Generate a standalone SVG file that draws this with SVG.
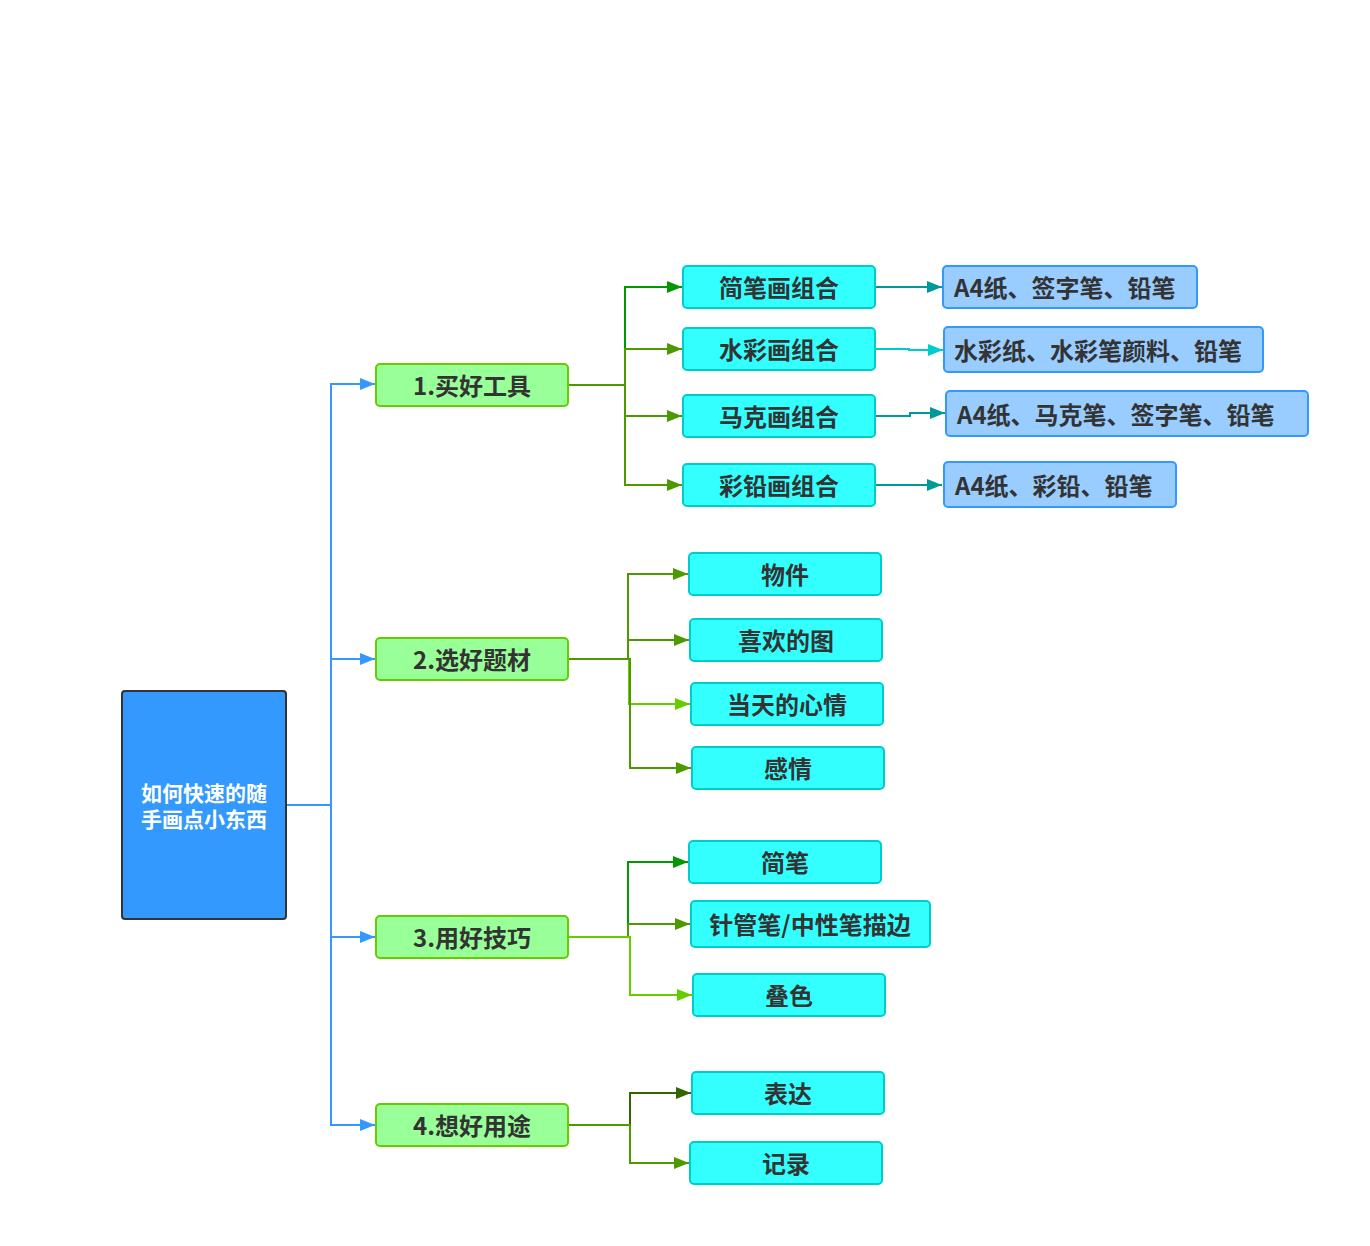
<svg xmlns="http://www.w3.org/2000/svg" width="1370" height="1246" viewBox="0 0 1370 1246">
<style>
text{font-family:"Noto Sans CJK SC","Noto Sans",sans-serif;font-weight:bold;fill:#333;font-size:24px;dominant-baseline:central}
.c{text-anchor:middle}
.root rect{fill:#3399ff;stroke:#333;stroke-width:2}
.root text{fill:#fff;font-size:21px}
.l1 rect{fill:#99ff99;stroke:#66cc00;stroke-width:2}
.l2 rect{fill:#33ffff;stroke:#00cccc;stroke-width:2}
.l3 rect{fill:#99ccff;stroke:#3399ff;stroke-width:2}
#connectors path{fill:none;stroke-width:2}
</style>
<defs>
<marker id="mb" markerWidth="16" markerHeight="12" refX="15" refY="6" orient="auto" markerUnits="userSpaceOnUse"><path d="M0,0L15,6L0,12z" fill="#3399ff"/></marker>
<marker id="mg1" markerWidth="16" markerHeight="12" refX="15" refY="6" orient="auto" markerUnits="userSpaceOnUse"><path d="M0,0L15,6L0,12z" fill="#009900"/></marker>
<marker id="mg2" markerWidth="16" markerHeight="12" refX="15" refY="6" orient="auto" markerUnits="userSpaceOnUse"><path d="M0,0L15,6L0,12z" fill="#4d9900"/></marker>
<marker id="mg3" markerWidth="16" markerHeight="12" refX="15" refY="6" orient="auto" markerUnits="userSpaceOnUse"><path d="M0,0L15,6L0,12z" fill="#66cc00"/></marker>
<marker id="mg4" markerWidth="16" markerHeight="12" refX="15" refY="6" orient="auto" markerUnits="userSpaceOnUse"><path d="M0,0L15,6L0,12z" fill="#336600"/></marker>
<marker id="mt1" markerWidth="16" markerHeight="12" refX="15" refY="6" orient="auto" markerUnits="userSpaceOnUse"><path d="M0,0L15,6L0,12z" fill="#009999"/></marker>
<marker id="mt2" markerWidth="16" markerHeight="12" refX="15" refY="6" orient="auto" markerUnits="userSpaceOnUse"><path d="M0,0L15,6L0,12z" fill="#00cccc"/></marker>
</defs>
<g id="connectors">
<path d="M287,805H331V384H375" stroke="#3399ff" marker-end="url(#mb)"/>
<path d="M331,805V659H375" stroke="#3399ff" marker-end="url(#mb)"/>
<path d="M331,805V937H375" stroke="#3399ff" marker-end="url(#mb)"/>
<path d="M331,805V1125H375" stroke="#3399ff" marker-end="url(#mb)"/>
<path d="M568,385H625V287H682" stroke="#009900" marker-end="url(#mg1)"/>
<path d="M568,385H625V349H682" stroke="#4d9900" marker-end="url(#mg2)"/>
<path d="M568,385H625V416H682" stroke="#4d9900" marker-end="url(#mg2)"/>
<path d="M568,385H625V485H682" stroke="#4d9900" marker-end="url(#mg2)"/>
<path d="M876,287H942" stroke="#009999" marker-end="url(#mt1)"/>
<path d="M876,349H909V350H943" stroke="#00cccc" marker-end="url(#mt2)"/>
<path d="M876,416H910V413H945" stroke="#009999" marker-end="url(#mt1)"/>
<path d="M876,485H942" stroke="#009999" marker-end="url(#mt1)"/>
<path d="M568,659H628V574H688" stroke="#4d9900" marker-end="url(#mg2)"/>
<path d="M568,659H628V640H689" stroke="#4d9900" marker-end="url(#mg2)"/>
<path d="M568,659H629V704H690" stroke="#66cc00" marker-end="url(#mg3)"/>
<path d="M568,659H630V768H691" stroke="#4d9900" marker-end="url(#mg2)"/>
<path d="M568,937H628V862H688" stroke="#009900" marker-end="url(#mg1)"/>
<path d="M568,937H628V924H690" stroke="#4d9900" marker-end="url(#mg2)"/>
<path d="M568,937H630V995H692" stroke="#66cc00" marker-end="url(#mg3)"/>
<path d="M568,1125H630V1093H691" stroke="#336600" marker-end="url(#mg4)"/>
<path d="M568,1125H630V1163H689" stroke="#4d9900" marker-end="url(#mg2)"/>
</g>
<g id="root" class="root"><rect x="122" y="691" width="164" height="228" rx="3"/><text class="c" x="204" y="792">如何快速的随</text><text class="c" x="204" y="818">手画点小东西</text></g>
<g id="n1" class="l1"><rect x="376" y="364" width="192" height="42" rx="4"/><text class="c" x="472" y="384">1.买好工具</text></g>
<g id="n2" class="l1"><rect x="376" y="638" width="192" height="42" rx="4"/><text class="c" x="472" y="658">2.选好题材</text></g>
<g id="n3" class="l1"><rect x="376" y="916" width="192" height="42" rx="4"/><text class="c" x="472" y="936">3.用好技巧</text></g>
<g id="n4" class="l1"><rect x="376" y="1104" width="192" height="42" rx="4"/><text class="c" x="472" y="1124">4.想好用途</text></g>
<g id="n11" class="l2"><rect x="683" y="266" width="192" height="42" rx="4"/><text class="c" x="779" y="286">简笔画组合</text></g>
<g id="n12" class="l2"><rect x="683" y="328" width="192" height="42" rx="4"/><text class="c" x="779" y="348">水彩画组合</text></g>
<g id="n13" class="l2"><rect x="683" y="395" width="192" height="42" rx="4"/><text class="c" x="779" y="415">马克画组合</text></g>
<g id="n14" class="l2"><rect x="683" y="464" width="192" height="42" rx="4"/><text class="c" x="779" y="484">彩铅画组合</text></g>
<g id="n111" class="l3"><rect x="943" y="266" width="254" height="42" rx="4"/><text x="954" y="286">A4纸、签字笔、铅笔</text></g>
<g id="n121" class="l3"><rect x="944" y="327" width="319" height="45" rx="4"/><text x="954" y="349">水彩纸、水彩笔颜料、铅笔</text></g>
<g id="n131" class="l3"><rect x="946" y="391" width="362" height="45" rx="4"/><text x="957" y="413">A4纸、马克笔、签字笔、铅笔</text></g>
<g id="n141" class="l3"><rect x="944" y="462" width="232" height="45" rx="4"/><text x="955" y="484">A4纸、彩铅、铅笔</text></g>
<g id="n21" class="l2"><rect x="689" y="553" width="192" height="42" rx="4"/><text class="c" x="785" y="573">物件</text></g>
<g id="n22" class="l2"><rect x="690" y="619" width="192" height="42" rx="4"/><text class="c" x="786" y="639">喜欢的图</text></g>
<g id="n23" class="l2"><rect x="691" y="683" width="192" height="42" rx="4"/><text class="c" x="787" y="703">当天的心情</text></g>
<g id="n24" class="l2"><rect x="692" y="747" width="192" height="42" rx="4"/><text class="c" x="788" y="767">感情</text></g>
<g id="n31" class="l2"><rect x="689" y="841" width="192" height="42" rx="4"/><text class="c" x="785" y="861">简笔</text></g>
<g id="n32" class="l2"><rect x="691" y="901" width="239" height="46" rx="4"/><text class="c" x="810" y="923">针管笔/中性笔描边</text></g>
<g id="n33" class="l2"><rect x="693" y="974" width="192" height="42" rx="4"/><text class="c" x="789" y="994">叠色</text></g>
<g id="n41" class="l2"><rect x="692" y="1072" width="192" height="42" rx="4"/><text class="c" x="788" y="1092">表达</text></g>
<g id="n42" class="l2"><rect x="690" y="1142" width="192" height="42" rx="4"/><text class="c" x="786" y="1162">记录</text></g>
</svg>
